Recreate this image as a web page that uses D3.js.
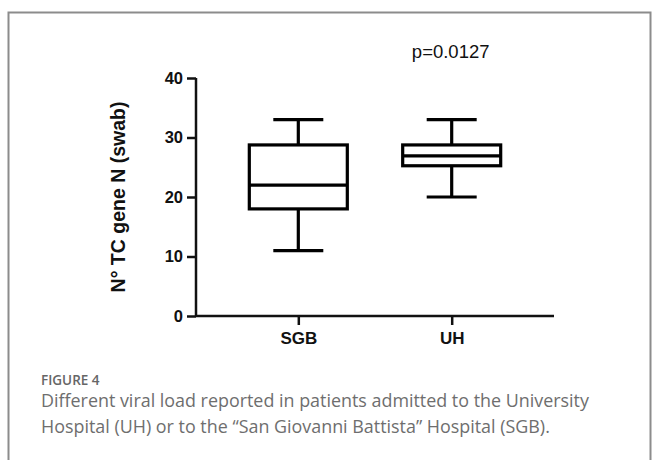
<!DOCTYPE html>
<html>
<head>
<meta charset="utf-8">
<script src="https://cdn.jsdelivr.net/npm/d3@7"></script>
<style>
  html, body { margin: 0; padding: 0; background: #fff; }
  svg { display: block; }
</style>
</head>
<body>
<div id="chart"></div>
<script>
// Box plot values
const groups = ["SGB", "UH"];
const whiskerLow = [11, 20];
const q1 = [18, 25.25];
const medians = [22, 26.9];
const q3 = [28.75, 28.75];
const whiskerHigh = [33, 33];
const yTicks = [0, 10, 20, 30, 40];
const pValueLabel = "p=0.0127";

const boxes = groups.map((g, i) => ({
  group: g, lo: whiskerLow[i], q1: q1[i], med: medians[i], q3: q3[i], hi: whiskerHigh[i]
}));

const W = 652, H = 460;
const svg = d3.select("#chart").append("svg")
  .attr("width", W)
  .attr("height", H);

// outer frame of the figure panel
svg.append("rect")
  .attr("x", 8.5).attr("y", 12.5)
  .attr("width", 642).attr("height", 470)
  .attr("fill", "none")
  .attr("stroke", "#8c8c8c")
  .attr("stroke-width", 2);

// Scales
const x = d3.scalePoint()
  .domain(groups)
  .range([196, 554])
  .padding(0.667);

const y = d3.scaleLinear()
  .domain([0, 40])
  .range([316, 78]);

const g = svg.append("g");

// Y axis
const yAxis = g.append("g")
  .attr("transform", "translate(196,0)")
  .call(d3.axisLeft(y).tickValues(yTicks).tickSize(9).tickPadding(4));

// X axis
const xAxis = g.append("g")
  .attr("transform", "translate(0,316)")
  .call(d3.axisBottom(x).tickSize(9).tickPadding(7));

[yAxis, xAxis].forEach(ax => {
  ax.select(".domain").attr("stroke", "#111").attr("stroke-width", 2.5);
  ax.selectAll(".tick line").attr("stroke", "#111").attr("stroke-width", 2.5);
  ax.selectAll(".tick text")
    .attr("fill", "#111")
    .style("font-family", "'Liberation Sans', Arial, sans-serif")
    .style("font-weight", "bold")
    .style("font-size", "16.5px");
});
// axis lines span the plot only, no end ticks
xAxis.select(".domain").attr("d", "M196,0H554");
yAxis.select(".domain").attr("d", "M0,316V78");
xAxis.selectAll(".tick text").style("font-size", "17px");

// Y axis title
g.append("text")
  .attr("transform", `translate(125,${y(20)}) rotate(-90)`)
  .attr("text-anchor", "middle")
  .attr("fill", "#111")
  .style("font-family", "'Liberation Sans', Arial, sans-serif")
  .style("font-weight", "bold")
  .style("font-size", "19.5px")
  .text("N° TC gene N (swab)");

// Boxes
const boxW = 98, capW = 50;
const bx = g.selectAll(".box")
  .data(boxes)
  .enter()
  .append("g")
  .attr("class", "box")
  .attr("fill", "none")
  .attr("stroke", "#000")
  .attr("stroke-width", 3.2);

// whiskers
bx.append("line")
  .attr("x1", d => x(d.group)).attr("x2", d => x(d.group))
  .attr("y1", d => y(d.hi)).attr("y2", d => y(d.q3));
bx.append("line")
  .attr("x1", d => x(d.group)).attr("x2", d => x(d.group))
  .attr("y1", d => y(d.q1)).attr("y2", d => y(d.lo));
// caps
bx.append("line")
  .attr("x1", d => x(d.group) - capW / 2).attr("x2", d => x(d.group) + capW / 2)
  .attr("y1", d => y(d.hi)).attr("y2", d => y(d.hi));
bx.append("line")
  .attr("x1", d => x(d.group) - capW / 2).attr("x2", d => x(d.group) + capW / 2)
  .attr("y1", d => y(d.lo)).attr("y2", d => y(d.lo));
// box
bx.append("rect")
  .attr("x", d => x(d.group) - boxW / 2)
  .attr("width", boxW)
  .attr("y", d => y(d.q3))
  .attr("height", d => y(d.q1) - y(d.q3))
  .attr("fill", "#fff");
// median
bx.append("line")
  .attr("x1", d => x(d.group) - boxW / 2).attr("x2", d => x(d.group) + boxW / 2)
  .attr("y1", d => y(d.med)).attr("y2", d => y(d.med));

// p-value
g.append("text")
  .attr("x", x("UH") - 1)
  .attr("y", 58)
  .attr("text-anchor", "middle")
  .attr("fill", "#111")
  .style("font-family", "'Liberation Sans', Arial, sans-serif")
  .style("font-size", "18.5px")
  .text(pValueLabel);

// Caption
const cap = svg.append("g")
  .style("font-family", "'Open Sans', Lato, sans-serif")
  .attr("fill", "#6e6e6e");
cap.append("text")
  .attr("x", 41).attr("y", 385)
  .style("font-size", "13.5px")
  .style("font-weight", "600")
  .attr("fill", "#666")
  .text("FIGURE 4");
cap.append("text")
  .attr("x", 41).attr("y", 407)
  .style("font-size", "17.9px")
  .text("Different viral load reported in patients admitted to the University");
cap.append("text")
  .attr("x", 41).attr("y", 433)
  .style("font-size", "17.9px")
  .text("Hospital (UH) or to the \u201CSan Giovanni Battista\u201D Hospital (SGB).");
</script>
</body>
</html>
